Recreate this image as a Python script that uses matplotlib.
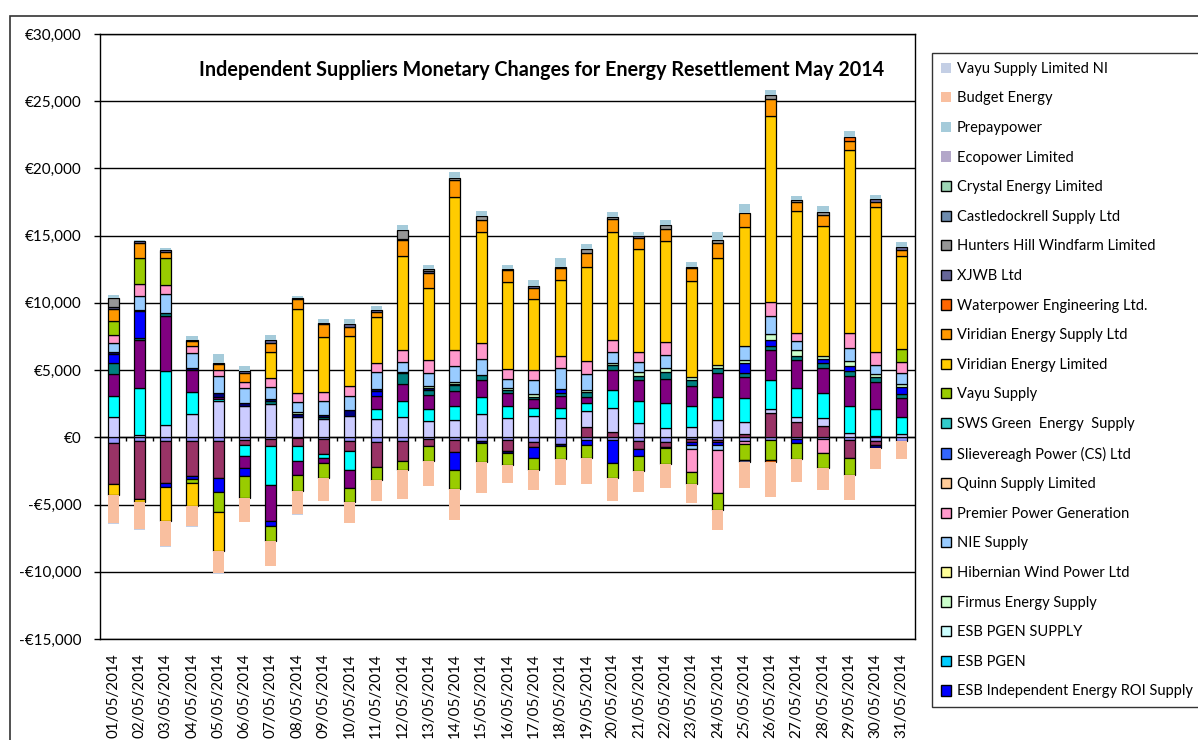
import numpy as np
import matplotlib.pyplot as plt
from matplotlib.patches import Patch, Rectangle
from matplotlib.ticker import FuncFormatter

plt.rcParams['font.family'] = ['Lato', 'DejaVu Sans']

dates = ['01/05/2014', '02/05/2014', '03/05/2014', '04/05/2014', '05/05/2014',
         '06/05/2014', '07/05/2014', '08/05/2014', '09/05/2014', '10/05/2014',
         '11/05/2014', '12/05/2014', '13/05/2014', '14/05/2014', '15/05/2014',
         '16/05/2014', '17/05/2014', '18/05/2014', '19/05/2014', '20/05/2014',
         '21/05/2014', '22/05/2014', '23/05/2014', '24/05/2014', '25/05/2014',
         '26/05/2014', '27/05/2014', '28/05/2014', '29/05/2014', '30/05/2014',
         '31/05/2014']

# series that are in the chart but dropped from the legend (bottom of the stack)
unlisted_a = [-450, -250, -300, -300, -300, -200, -100, -50, -150, -300,
              -350, -300, -150, -220, -300, -220, -350, -520, -220, -220,
              -300, -350, -150, -220, -300, -220, -150, -100, -220, -300, -300]
unlisted_b = [-3000, -4370, -3130, -2560, -2750, -370, -570, -600, -1120, -740,
              -1860, -1490, -520, -870, 0, -820, -370, 0, 790, 420,
              -550, -370, -170, -100, 250, 1840, 1120, 820, -1290, -250, 0]
unlisted_c = [1540, 150, 890, 1710, 2700, 2330, 2460, 1490, 1360, 1610,
              1360, 1490, 1240, 1290, 1740, 1410, 1590, 1410, 1190, 1740,
              1070, 670, 790, 1290, 910, 250, 420, 600, 300, 100, 220]
unlisted_d = [1540, 3520, 4050, 1640, 150, -820, -2850, -1140, -250, -1360,
              770, 1240, 890, 1070, 1290, 920, 570, 740, 550, 1360,
              1660, 1860, 1560, 1690, 1740, 2180, 2110, 1860, 2030, 1990, 1320]
unlisted_e = [1610, 3550, 4090, 1660, 170, -920, -2730, -1040, -370, -1340,
              970, 1220, 1040, 1120, 1240, 940, 670, 920, 470, 1490,
              1560, 1810, 1460, 1790, 1610, 2230, 2110, 1860, 2230, 2060, 1360]
unlisted_f = [870, 200, 250, 0, 0, 0, 250, 0, 150, 0,
              0, 820, 370, 400, 370, 250, 200, 250, 370, 370,
              250, 500, 450, 370, 300, 320, 300, 370, 400, 370, 300]

esb_indep = [650, 1940, -300, -250, -1040, -570, -320, 0, 0, 0,
             370, 0, 0, -1360, 0, 0, -790, 300, -320, -1660,
             -570, 0, -270, -250, 690, 420, -250, 300, 350, 0, 570]
unlisted_g = [100, 120, 0, 170, 250, 250, 120, 220, 150, 420,
              100, 100, 100, 100, -100, -100, 0, -150, 0, 0,
              0, -80, 0, 0, 0, 0, 0, 0, 0, -220, 0]
firmus = [0, 0, 0, 0, 0, 0, 0, 170, 0, 0,
          0, 0, 200, 170, 0, 120, 170, 0, 120, 120,
          300, 300, 250, 250, 250, 450, 400, 250, 400, 170, 200]
nie_supply = [700, 1040, 1360, 1120, 1290, 1070, 890, 770, 1070, 1070,
              1320, 720, 920, 1170, 1170, 670, 1070, 1540, 1190, 820,
              770, 990, -300, -370, 1040, 1340, 670, 0, 920, 690, 790]
premier = [620, 870, 670, 500, 450, 500, 670, 620, 620, 740,
           670, 920, 990, 1190, 1240, 740, 740, 890, 990, 920,
           720, 940, -1660, -3230, -170, 1070, 620, -1040, 1120, 990, 820]
vayu_supply = [1040, 1940, 2010, -250, -1490, -1660, -1170, -1170, -1140, -1070,
               -990, -620, -1090, -1360, -1440, -890, -890, -920, -970, -1120,
               -1120, -1220, -940, -1240, -1240, -1490, -1190, -1120, -1270, 0, 970]
viridian_ltd = [-870, -220, -2480, -1760, -2850, 0, 1940, 6280, 4090, 3700,
                3370, 6950, 5380, 11360, 8240, 6530, 5290, 5660, 7020, 8010,
                7690, 7570, 7120, 7940, 8830, 13770, 9060, 9630, 13650, 10740, 6950]
viridian_supply = [890, 1120, 500, 370, 420, 670, 720, 720, 990, 690,
                   420, 1240, 1070, 1240, 890, 870, 790, 870, 990, 970,
                   820, 870, 940, 1120, 1040, 1290, 670, 870, 670, 370, 400]
waterpower = [0, 0, 0, 0, 0, 0, 0, 0, 0, 0,
              0, 0, 0, 0, 0, 0, 0, 0, 0, 0,
              0, 0, 0, 0, 0, -120, 0, 0, 270, 0, 0]
xjwb = [120, 120, 120, 70, 120, 100, 200, 100, 100, 200,
        120, 70, 170, 0, 0, 50, 170, 120, 0, 0,
        120, 0, 120, 0, -120, 0, 0, 0, 0, 250, 250]
hunters_hill = [720, 0, 0, 0, 0, 0, 0, 0, 0, 0,
                0, 670, 120, 170, 300, 0, 0, 0, 300, 200,
                0, 250, 0, 250, 0, 270, 200, 200, 0, 0, 0]
prepaypower = [150, 120, 120, 320, 650, 350, 370, 150, 250, 350,
               320, 350, 320, 450, 370, 320, 450, 620, 420, 370,
               300, 370, 320, 570, 690, 420, 250, 470, 420, 300, 350]
budget = [-2080, -2010, -1890, -1490, -1690, -1790, -1860, -1690, -1740, -1560,
          -1560, -2160, -1890, -2360, -2280, -1340, -1540, -1990, -1990, -1760,
          -1540, -1760, -1360, -1490, -1940, -2610, -1740, -1690, -1910, -1610, -1340]
vayu_ni = [-60, -60, -60, -60, -60, 0, 0, -60, 0, 0,
           0, 0, 0, 0, 0, 0, 0, 0, 0, 0,
           0, 0, 0, 0, 0, 0, 0, 0, 0, 0, 0]

# stacking order, bottom first: (values, fill colour, has border)
stack = [
    (unlisted_a, '#9999FF', True),
    (unlisted_b, '#993366', True),
    (unlisted_c, '#CCCCFF', True),
    (unlisted_d, '#00FFFF', True),
    (unlisted_e, '#800080', True),
    (unlisted_f, '#008080', True),
    (esb_indep, '#0000FF', True),
    (unlisted_g, '#000080', True),
    (firmus, '#CCFFCC', True),
    (nie_supply, '#99CCFF', True),
    (premier, '#FF99CC', True),
    (vayu_supply, '#99CC00', True),
    (viridian_ltd, '#FFCC00', True),
    (viridian_supply, '#FF9900', True),
    (waterpower, '#FF6600', True),
    (xjwb, '#666699', True),
    (hunters_hill, '#969696', True),
    (prepaypower, '#A5CBDA', False),
    (budget, '#F9BF9F', False),
    (vayu_ni, '#C4CFE5', False),
]

# legend as shown in the picture (top to bottom)
legend_items = [
    ('Vayu Supply Limited NI', '#C4CFE5', False),
    ('Budget Energy', '#F9BF9F', False),
    ('Prepaypower', '#A5CBDA', False),
    ('Ecopower Limited', '#B3A7C9', False),
    ('Crystal Energy Limited', '#9ED6B5', True),
    ('Castledockrell Supply Ltd', '#6E8CAE', True),
    ('Hunters Hill Windfarm Limited', '#969696', True),
    ('XJWB Ltd', '#666699', True),
    ('Waterpower Engineering Ltd.', '#FF6600', True),
    ('Viridian Energy Supply Ltd', '#FF9900', True),
    ('Viridian Energy Limited', '#FFCC00', True),
    ('Vayu Supply', '#99CC00', True),
    ('SWS Green  Energy  Supply', '#33CCCC', True),
    ('Slievereagh Power (CS) Ltd', '#3366FF', True),
    ('Quinn Supply Limited', '#FFCC99', True),
    ('Premier Power Generation', '#FF99CC', True),
    ('NIE Supply', '#99CCFF', True),
    ('Hibernian Wind Power Ltd', '#FFFF99', True),
    ('Firmus Energy Supply', '#CCFFCC', True),
    ('ESB PGEN SUPPLY', '#CCFFFF', True),
    ('ESB PGEN', '#00CCFF', True),
    ('ESB Independent Energy ROI Supply', '#0000FF', True),
]

fig = plt.figure(figsize=(11.98, 7.40), dpi=100)
ax = fig.add_axes([100 / 1198, 1 - 639 / 740, 815 / 1198, 605 / 740])

x = np.arange(len(dates))
pos_base = np.zeros(len(dates))
neg_base = np.zeros(len(dates))
for vals, color, edged in stack:
    v = np.array(vals, dtype=float)
    keep = v != 0
    bottom = np.where(v >= 0, pos_base, neg_base)
    ax.bar(x[keep], v[keep], 0.42, bottom=bottom[keep], color=color,
           edgecolor='black' if edged else 'none', linewidth=0.9, zorder=3)
    pos_base += np.clip(v, 0, None)
    neg_base += np.clip(v, None, 0)

ax.set_xlim(-0.5, len(dates) - 0.5)
ax.set_ylim(-15000, 30000)
ax.set_yticks(np.arange(-15000, 30001, 5000))


def euro(v, pos):
    if v < 0:
        return '-€{:,.0f}'.format(-v)
    return '€{:,.0f}'.format(v)


ax.yaxis.set_major_formatter(FuncFormatter(euro))
ax.yaxis.grid(True, color='black', linewidth=1)
ax.set_axisbelow(True)
ax.tick_params(axis='y', direction='out', length=4, width=1, pad=9, labelsize=11)

ax.set_xticks(x)
ax.set_xticklabels(dates, rotation=90, fontsize=11)
ax.tick_params(axis='x', length=0, pad=10)

# category tick marks on the zero line
ax.vlines(x[:-1] + 0.5, -300, 0, color='black', linewidth=1, zorder=2)
ax.axhline(0, color='black', linewidth=1, zorder=2)

for s in ax.spines.values():
    s.set_color('black')
    s.set_linewidth(1)

ax.text(0.542, 0.94, 'Independent Suppliers Monetary Changes for Energy Resettlement May 2014',
        transform=ax.transAxes, ha='center', va='center', fontsize=14.2,
        fontweight='bold', zorder=5)

handles = [Patch(facecolor=c, edgecolor='black' if e else 'none', linewidth=1)
           for _, c, e in legend_items]
labels = [n for n, _, _ in legend_items]
leg = fig.legend(handles, labels, loc='upper left',
                 bbox_to_anchor=(932 / 1198, 1 - 53 / 740), fontsize=10.5,
                 frameon=True, fancybox=False, edgecolor='black',
                 labelspacing=1.07, handlelength=0.7, handleheight=0.7,
                 handletextpad=0.4, borderpad=0.6, borderaxespad=0)
leg.get_frame().set_linewidth(1)

# outer chart border
fig.patches.append(Rectangle((10 / 1198, -0.1), 1.2, 1 - 16 / 740 + 0.1,
                             transform=fig.transFigure, fill=False,
                             edgecolor='#333333', linewidth=1.2))

fig.savefig('out.png', dpi=100)
